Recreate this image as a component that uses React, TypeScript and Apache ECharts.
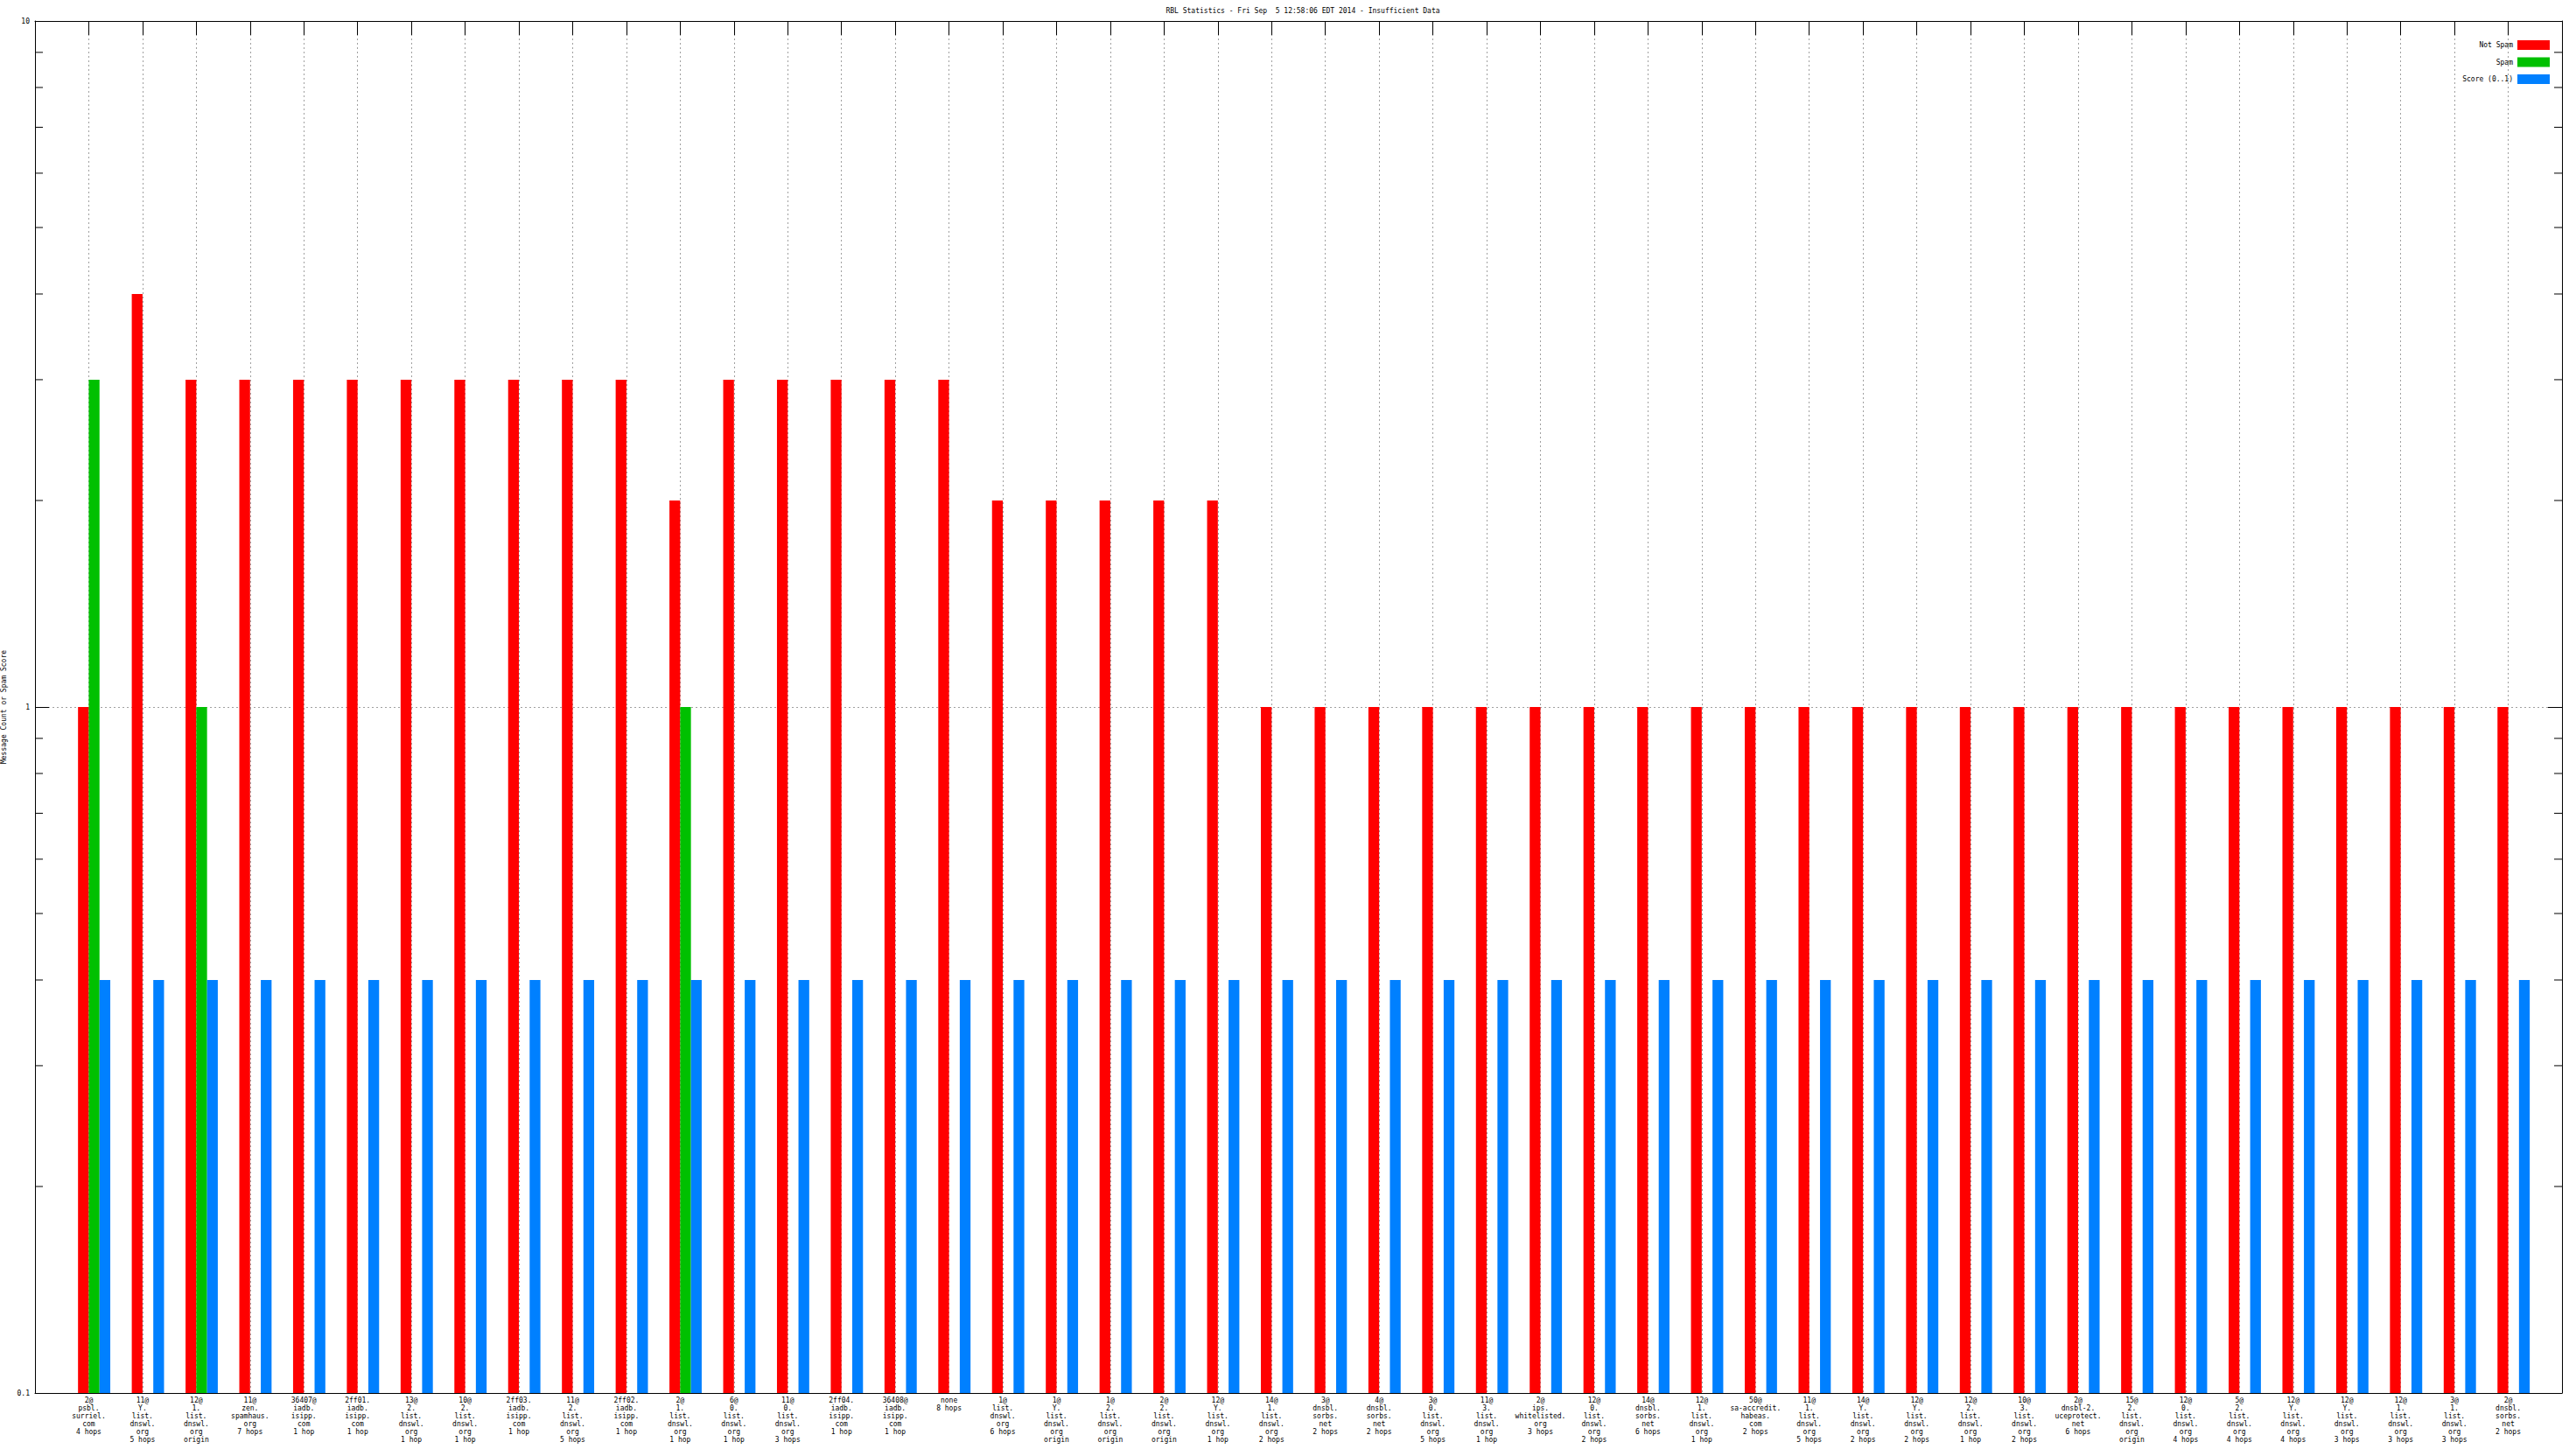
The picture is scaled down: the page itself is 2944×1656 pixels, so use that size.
import React, { useEffect, useRef } from 'react';
import * as echarts from 'echarts';

const TITLE = 'RBL Statistics - Fri Sep  5 12:58:06 EDT 2014 - Insufficient Data';
const Y_NAME = 'Message Count or Spam Score';

const categories: string[] = [
  '2@\npsbl.\nsurriel.\ncom\n4 hops',
  '11@\nY.\nlist.\ndnswl.\norg\n5 hops',
  '12@\n1.\nlist.\ndnswl.\norg\norigin',
  '11@\nzen.\nspamhaus.\norg\n7 hops',
  '36407@\niadb.\nisipp.\ncom\n1 hop',
  '2ff01.\niadb.\nisipp.\ncom\n1 hop',
  '13@\n2.\nlist.\ndnswl.\norg\n1 hop',
  '10@\n2.\nlist.\ndnswl.\norg\n1 hop',
  '2ff03.\niadb.\nisipp.\ncom\n1 hop',
  '11@\n2.\nlist.\ndnswl.\norg\n5 hops',
  '2ff02.\niadb.\nisipp.\ncom\n1 hop',
  '2@\n1.\nlist.\ndnswl.\norg\n1 hop',
  '6@\n0.\nlist.\ndnswl.\norg\n1 hop',
  '11@\n0.\nlist.\ndnswl.\norg\n3 hops',
  '2ff04.\niadb.\nisipp.\ncom\n1 hop',
  '36408@\niadb.\nisipp.\ncom\n1 hop',
  'none\n8 hops',
  '1@\nlist.\ndnswl.\norg\n6 hops',
  '1@\nY.\nlist.\ndnswl.\norg\norigin',
  '1@\n2.\nlist.\ndnswl.\norg\norigin',
  '2@\n2.\nlist.\ndnswl.\norg\norigin',
  '12@\nY.\nlist.\ndnswl.\norg\n1 hop',
  '14@\n1.\nlist.\ndnswl.\norg\n2 hops',
  '3@\ndnsbl.\nsorbs.\nnet\n2 hops',
  '4@\ndnsbl.\nsorbs.\nnet\n2 hops',
  '3@\n0.\nlist.\ndnswl.\norg\n5 hops',
  '11@\n3.\nlist.\ndnswl.\norg\n1 hop',
  '2@\nips.\nwhitelisted.\norg\n3 hops',
  '12@\n0.\nlist.\ndnswl.\norg\n2 hops',
  '14@\ndnsbl.\nsorbs.\nnet\n6 hops',
  '12@\n1.\nlist.\ndnswl.\norg\n1 hop',
  '50@\nsa-accredit.\nhabeas.\ncom\n2 hops',
  '11@\n1.\nlist.\ndnswl.\norg\n5 hops',
  '14@\nY.\nlist.\ndnswl.\norg\n2 hops',
  '12@\nY.\nlist.\ndnswl.\norg\n2 hops',
  '12@\n2.\nlist.\ndnswl.\norg\n1 hop',
  '10@\n3.\nlist.\ndnswl.\norg\n2 hops',
  '2@\ndnsbl-2.\nuceprotect.\nnet\n6 hops',
  '15@\n2.\nlist.\ndnswl.\norg\norigin',
  '12@\n0.\nlist.\ndnswl.\norg\n4 hops',
  '5@\n2.\nlist.\ndnswl.\norg\n4 hops',
  '12@\nY.\nlist.\ndnswl.\norg\n4 hops',
  '12@\nY.\nlist.\ndnswl.\norg\n3 hops',
  '12@\n1.\nlist.\ndnswl.\norg\n3 hops',
  '3@\n1.\nlist.\ndnswl.\norg\n3 hops',
  '2@\ndnsbl.\nsorbs.\nnet\n2 hops',
];

const notSpam: number[] = [
  1, 4, 3, 3, 3, 3, 3, 3, 3, 3, 3, 2, 3, 3, 3, 3, 3, 2, 2, 2, 2, 2,
  1, 1, 1, 1, 1, 1, 1, 1, 1, 1, 1, 1, 1, 1, 1, 1, 1, 1, 1, 1, 1, 1, 1, 1,
];

const spam: (number | null)[] = [
  3, null, 1, null, null, null, null, null, null, null, null, 1, null, null, null, null, null, null, null, null, null, null,
  null, null, null, null, null, null, null, null, null, null, null, null, null, null, null, null, null, null, null, null, null, null, null, null,
];

const score: number[] = [
  0.4, 0.4, 0.4, 0.4, 0.4, 0.4, 0.4, 0.4, 0.4, 0.4, 0.4, 0.4, 0.4, 0.4, 0.4, 0.4, 0.4, 0.4, 0.4, 0.4, 0.4, 0.4, 0.4,
  0.4, 0.4, 0.4, 0.4, 0.4, 0.4, 0.4, 0.4, 0.4, 0.4, 0.4, 0.4, 0.4, 0.4, 0.4, 0.4, 0.4, 0.4, 0.4, 0.4, 0.4, 0.4, 0.4,
];

const minorTickValues: number[] = [0.2, 0.3, 0.4, 0.5, 0.6, 0.7, 0.8, 0.9, 2, 3, 4, 5, 6, 7, 8, 9];

const Y_MIN = 0.1;
const Y_MAX = 10;

const FONT = "'DejaVu Sans Mono', monospace";
const RED = '#ff0000';
const GREEN = '#00c000';
const BLUE = '#0080ff';

const makeBarRenderer = (slot: number, color: string) => (params: any, api: any) => {
  const idx = api.value(0);
  const v = api.value(1);
  const top = api.coord([idx, v]);
  const base = api.coord([idx, Y_MIN]);
  const band = api.size([1, 0])[0];
  const w = band * 0.2;
  return {
    type: 'rect',
    shape: { x: top[0] + (slot - 1) * w, y: top[1], width: w, height: base[1] - top[1] },
    style: { fill: color },
  };
};

const toData = (arr: (number | null)[]) =>
  arr.map((v, i) => (v == null ? null : [i + 1, v])).filter((d) => d !== null);

export default function App() {
  const ref = useRef<HTMLDivElement>(null);

  useEffect(() => {
    if (!ref.current) return;
    const chart = echarts.init(ref.current, null, { renderer: 'svg' });
    const axisCats = ['', ...categories, ''];

    const option: any = {
      animation: false,
      backgroundColor: '#ffffff',
      title: {
        text: TITLE,
        left: 1484,
        textAlign: 'center',
        top: 3,
        textStyle: { fontSize: 8, fontWeight: 'normal', color: '#000', fontFamily: FONT },
      },
      legend: {
        orient: 'vertical',
        right: 25,
        top: 41,
        itemWidth: 37,
        itemHeight: 11,
        itemGap: 8.5,
        align: 'right',
        selectedMode: false,
        textStyle: { fontSize: 8, color: '#000', fontFamily: FONT },
        data: [
          { name: 'Not Spam', icon: 'rect', itemStyle: { color: RED } },
          { name: 'Spam', icon: 'rect', itemStyle: { color: GREEN } },
          { name: 'Score (0..1)', icon: 'rect', itemStyle: { color: BLUE } },
        ],
      },
      grid: { left: 40, right: 16, top: 24, bottom: 64, outerBoundsMode: 'none' },
      xAxis: [
        {
          type: 'category',
          data: axisCats,
          boundaryGap: false,
          position: 'bottom',
          axisLine: { show: true, lineStyle: { color: '#000', width: 1 } },
          axisTick: { show: false },
          axisLabel: {
            interval: 0,
            fontSize: 8,
            lineHeight: 9,
            color: '#000',
            fontFamily: FONT,
            margin: 4,
            align: 'center',
          },
          splitLine: {
            show: true,
            interval: 0,
            lineStyle: { color: '#a0a0a0', type: [2, 3], width: 1 },
          },
        },
        {
          type: 'category',
          data: axisCats,
          boundaryGap: false,
          position: 'top',
          axisLine: { show: true, lineStyle: { color: '#000', width: 1 } },
          axisTick: { show: true, inside: true, length: 16, interval: 0, lineStyle: { color: '#000' } },
          axisLabel: { show: false },
          splitLine: { show: false },
        },
      ],
      yAxis: [
        {
          type: 'log',
          logBase: 10,
          min: Y_MIN,
          max: Y_MAX,
          position: 'left',
          name: Y_NAME,
          nameLocation: 'middle',
          nameGap: 28,
          nameRotate: 90,
          nameTextStyle: { fontSize: 8, color: '#000', fontFamily: FONT },
          axisLine: { show: true, lineStyle: { color: '#000', width: 1 } },
          axisTick: { show: true, inside: true, length: 16, lineStyle: { color: '#000' } },
          axisLabel: { fontSize: 8, color: '#000', fontFamily: FONT, margin: 6 },
          splitLine: { show: true, lineStyle: { color: '#a0a0a0', type: [2, 3], width: 1 } },
        },
        {
          type: 'log',
          logBase: 10,
          min: Y_MIN,
          max: Y_MAX,
          position: 'right',
          axisLine: { show: true, lineStyle: { color: '#000', width: 1 } },
          axisTick: { show: true, inside: true, length: 16, lineStyle: { color: '#000' } },
          axisLabel: { show: false },
          splitLine: { show: false },
        },
      ],
      series: [
        {
          name: 'Not Spam',
          type: 'custom',
          xAxisIndex: 0,
          yAxisIndex: 0,
          itemStyle: { color: RED },
          encode: { x: 0, y: 1 },
          renderItem: makeBarRenderer(0, RED),
          data: toData(notSpam),
        },
        {
          name: 'Spam',
          type: 'custom',
          xAxisIndex: 0,
          yAxisIndex: 0,
          itemStyle: { color: GREEN },
          encode: { x: 0, y: 1 },
          renderItem: makeBarRenderer(1, GREEN),
          data: toData(spam),
        },
        {
          name: 'Score (0..1)',
          type: 'custom',
          xAxisIndex: 0,
          yAxisIndex: 0,
          itemStyle: { color: BLUE },
          encode: { x: 0, y: 1 },
          renderItem: makeBarRenderer(2, BLUE),
          data: toData(score),
        },
        {
          name: 'minorTicks',
          type: 'custom',
          xAxisIndex: 0,
          yAxisIndex: 0,
          silent: true,
          encode: { x: 0, y: 1 },
          renderItem: (params: any, api: any) => {
            const y = api.coord([0, api.value(1)])[1];
            const cs = params.coordSys;
            return {
              type: 'group',
              children: [
                { type: 'line', shape: { x1: cs.x, y1: y, x2: cs.x + 9, y2: y }, style: { stroke: '#000', lineWidth: 1 } },
                {
                  type: 'line',
                  shape: { x1: cs.x + cs.width - 9, y1: y, x2: cs.x + cs.width, y2: y },
                  style: { stroke: '#000', lineWidth: 1 },
                },
              ],
            };
          },
          data: minorTickValues.map((v) => [0, v]),
        },
      ],
    };

    chart.setOption(option);
    return () => {
      chart.dispose();
    };
  }, []);

  return (
    <div
      ref={ref}
      style={{ position: 'fixed', left: 0, top: 0, width: 2944, height: 1656, background: '#fff' }}
    />
  );
}
